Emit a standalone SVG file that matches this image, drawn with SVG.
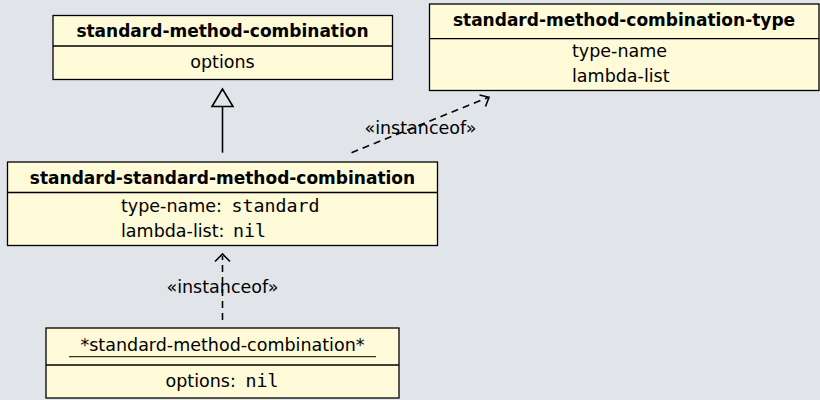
<svg xmlns="http://www.w3.org/2000/svg" width="820" height="400" viewBox="0 0 820 400">
<style>
.box{fill:#fffad8;stroke:#000;stroke-width:1.3}
.div{stroke:#000;stroke-width:1.3}
.t{font-family:"DejaVu Sans",sans-serif;font-size:17px;font-weight:bold;fill:#000;text-anchor:middle}
.a{font-family:"DejaVu Sans",sans-serif;font-size:17.5px;fill:#000}
.m{font-family:"DejaVu Sans Mono","Liberation Mono",monospace;font-size:18.3px}
.c{text-anchor:middle}
.ln{fill:none;stroke:#000;stroke-width:1.6}
.dash{stroke-dasharray:7,5}
</style>
<rect width="820" height="400" fill="#e1e5e9"/>
<g id="standard-method-combination">
<rect class="box" x="53" y="15.5" width="339.5" height="64"/>
<line class="div" x1="53" y1="46" x2="392.5" y2="46"/>
<text class="t" x="222.5" y="37">standard-method-combination</text>
<text class="a c" x="222.5" y="68">options</text>
</g>
<g id="standard-method-combination-type">
<rect class="box" x="429.5" y="4" width="389.5" height="86.5"/>
<line class="div" x1="429.5" y1="38.7" x2="819" y2="38.7"/>
<text class="t" x="624" y="26">standard-method-combination-type</text>
<text class="a" x="572" y="57.3">type-name</text>
<text class="a" x="572" y="82">lambda-list</text>
</g>
<g id="standard-standard-method-combination">
<rect class="box" x="7.5" y="162" width="430" height="83.5"/>
<line class="div" x1="7.5" y1="192.5" x2="437.5" y2="192.5"/>
<text class="t" x="222.5" y="183.5">standard-standard-method-combination</text>
<text class="a" x="121" y="211.7">type-name: <tspan class="m" dx="4">standard</tspan></text>
<text class="a" x="121" y="236.7">lambda-list: <tspan class="m" dx="3">nil</tspan></text>
</g>
<g id="star-standard-method-combination">
<rect class="box" x="46" y="328" width="353" height="70"/>
<line class="div" x1="46" y1="365" x2="399" y2="365"/>
<text class="a c" x="222.5" y="351">*standard-method-combination*</text>
<line x1="69" y1="356.7" x2="376" y2="356.7" stroke="#000" stroke-width="1"/>
<text class="a c" x="222" y="386.7">options: <tspan class="m" dx="4">nil</tspan></text>
</g>
<g id="connectors">
<line class="ln" x1="222.5" y1="152.7" x2="222.5" y2="106.5"/>
<polygon points="222.5,89 212,106.5 233,106.5" fill="none" stroke="#000" stroke-width="1.6" stroke-linejoin="miter"/>
<line class="ln dash" x1="222.5" y1="320" x2="222.5" y2="256"/>
<polyline class="ln" points="215,261.5 222.5,254 230,261.5"/>
<text class="a c" x="222.5" y="293">«instanceof»</text>
<line class="ln dash" x1="351.5" y1="152.7" x2="488" y2="97.5"/>
<polyline class="ln" points="479.5,95 489,97.2 485.5,106.5"/>
<text class="a c" x="420.5" y="134">«instanceof»</text>
</g>
</svg>
